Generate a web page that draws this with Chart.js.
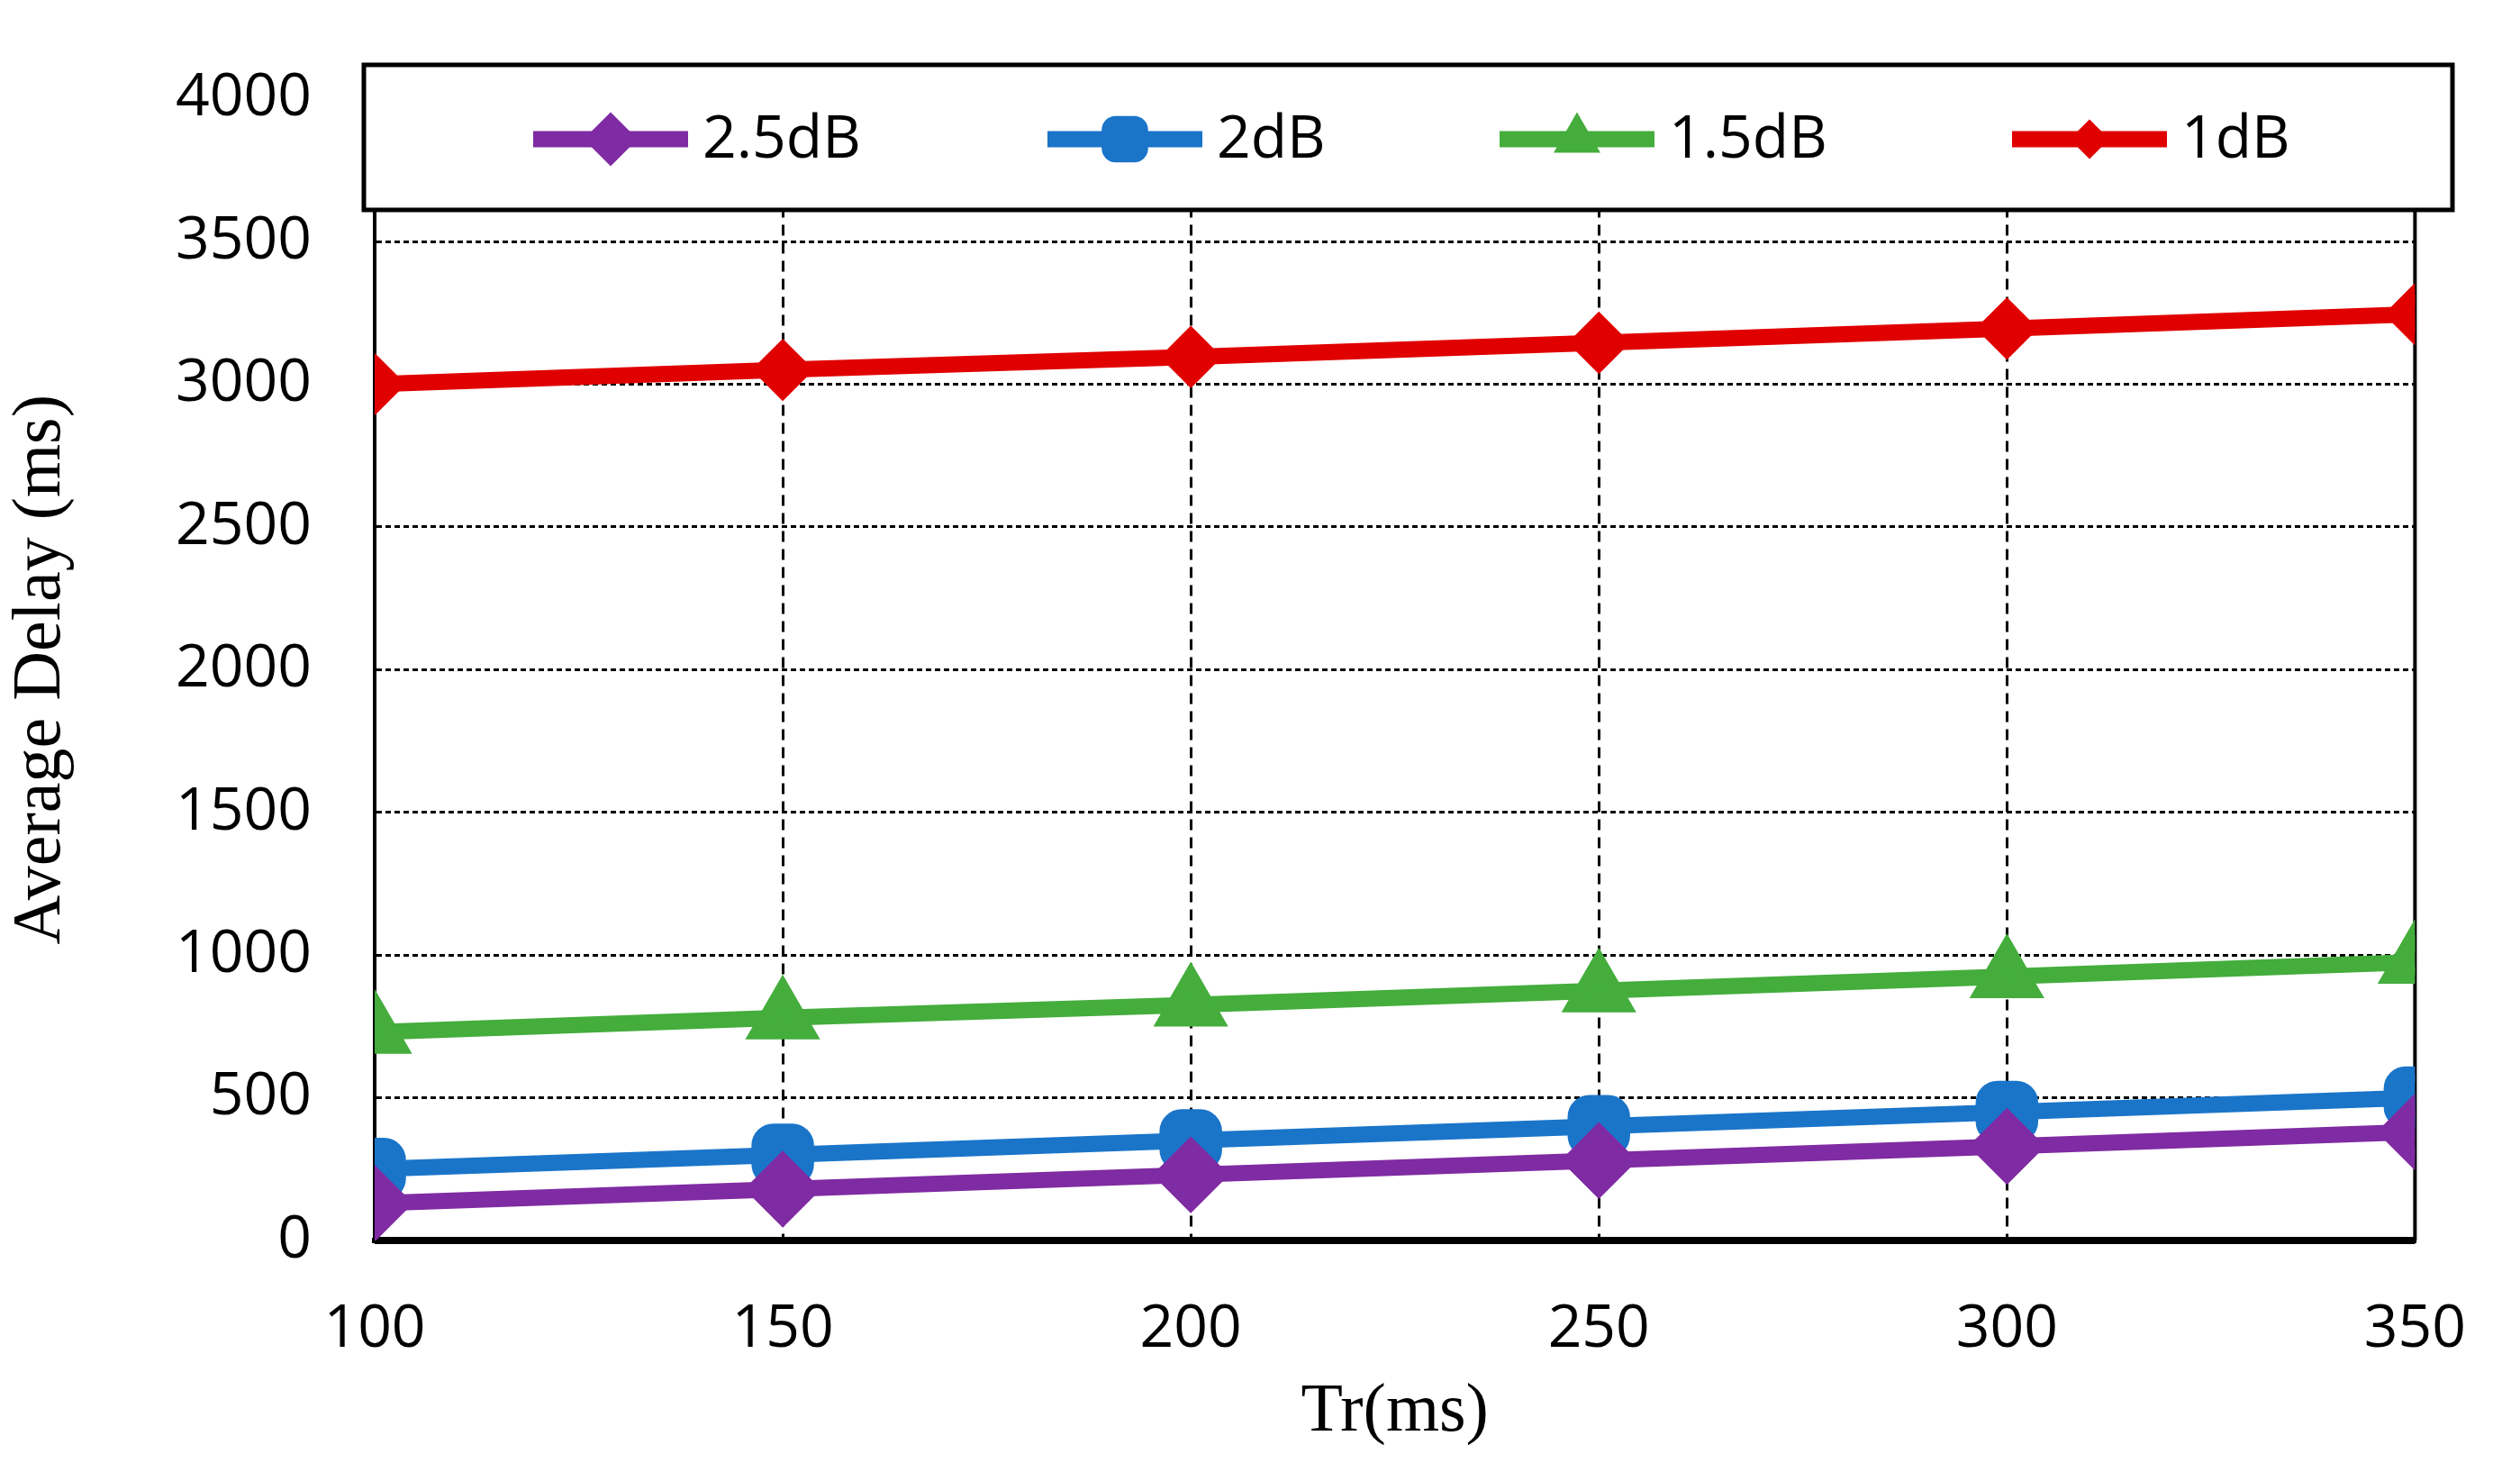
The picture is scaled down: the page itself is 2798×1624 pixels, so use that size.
<!DOCTYPE html>
<html>
<head>
<meta charset="utf-8">
<script src="https://cdn.jsdelivr.net/npm/chart.js@4"></script>
<style>
  html, body { margin: 0; padding: 0; background: #fff; }
  #wrap { width: 2798px; height: 1624px; }
</style>
</head>
<body>
<div id="wrap"><canvas id="c"></canvas></div>
<script>
const trValues = [100, 150, 200, 250, 300, 350];
const seriesLabels = ['2.5dB', '2dB', '1.5dB', '1dB'];
const delay25 = [130, 180, 230, 280, 330, 380];
const delay2 = [250, 300, 350, 400, 450, 500];
const delay15 = [730, 780, 825, 875, 925, 975];
const delay1 = [3000, 3050, 3095, 3145, 3195, 3245];

const colors = ['#7f2ba3', '#1a75c9', '#44ad3c', '#e00000'];
const shapes = ['rectRot', 'rectRounded', 'triangle', 'rectRot'];
const radii = [30, 30, 30, 22];
const allData = [delay25, delay2, delay15, delay1];

const datasets = allData.map((vals, i) => ({
    label: seriesLabels[i],
    data: vals.map((v, j) => ({ x: trValues[j], y: v })),
    borderColor: colors[i],
    backgroundColor: colors[i],
    borderWidth: 18,
    pointStyle: shapes[i],
    pointRadius: radii[i],
    pointHoverRadius: radii[i],
    tension: 0
}));

// legend drawn as a box inside the plot, like the original
const boxLegend = {
    id: 'boxLegend',
    afterDraw(chart) {
        const ctx = chart.ctx;
        const x0 = 404, y0 = 72, w = 2319, h = 161;
        ctx.save();
        ctx.fillStyle = '#fff';
        ctx.fillRect(x0, y0, w, h);
        ctx.lineWidth = 5;
        ctx.strokeStyle = '#000';
        ctx.strokeRect(x0, y0, w, h);
        const starts = [592, 1163, 1665, 2234];
        const cy = y0 + h / 2 + 2;
        chart.data.datasets.forEach((ds, i) => {
            const sx = starts[i];
            ctx.strokeStyle = ds.borderColor;
            ctx.lineWidth = 18;
            ctx.beginPath();
            ctx.moveTo(sx, cy);
            ctx.lineTo(sx + 172, cy);
            ctx.stroke();
            ctx.fillStyle = ds.backgroundColor;
            Chart.helpers.drawPoint(ctx, { pointStyle: ds.pointStyle, radius: ds.pointRadius, rotation: 0, borderWidth: 0 }, sx + 86, cy);
            ctx.fillStyle = '#000';
            ctx.font = '66px "Open Sans", "Liberation Sans", sans-serif';
            ctx.textBaseline = 'middle';
            ctx.fillText(ds.label, sx + 188, cy + 2);
        });
        ctx.restore();
    }
};

new Chart(document.getElementById('c'), {
    type: 'line',
    data: { datasets },
    options: {
        responsive: true,
        maintainAspectRatio: false,
        animation: false,
        layout: { padding: { left: 0, top: 68, right: 64, bottom: 10 } },
        plugins: { legend: { display: false }, tooltip: { enabled: false } },
        scales: {
            x: {
                type: 'linear',
                min: 100, max: 350,
                afterFit(s) { s.height = 237; },
                ticks: {
                    stepSize: 50, padding: 60, color: '#000',
                    callback: v => String(v),
                    font: { family: '"Open Sans", "Liberation Sans", sans-serif', size: 66 }
                },
                grid: { color: '#000', lineWidth: 3, drawTicks: false },
                border: { color: '#000', width: 6, dash: [12, 8] },
                title: {
                    display: true, text: 'Tr(ms)', color: '#000', padding: 0,
                    font: { family: '"Liberation Serif", serif', size: 76 }
                }
            },
            y: {
                min: 0, max: 4000,
                afterFit(s) { s.width = 416; },
                ticks: {
                    stepSize: 500, padding: 70, color: '#000',
                    callback: v => String(v),
                    font: { family: '"Open Sans", "Liberation Sans", sans-serif', size: 66 }
                },
                grid: { color: '#000', lineWidth: 3, drawTicks: false },
                border: { color: '#000', width: 3, dash: [6, 4] },
                title: {
                    display: true, text: 'Average Delay (ms)', color: '#000', padding: 0,
                    font: { family: '"Liberation Serif", serif', size: 76 }
                }
            }
        }
    },
    plugins: [boxLegend, {
        id: 'frame',
        beforeDatasetsDraw(chart) {
            const a = chart.chartArea, ctx = chart.ctx;
            ctx.save();
            ctx.strokeStyle = '#000';
            ctx.lineWidth = 4;
            ctx.beginPath();
            ctx.moveTo(a.left, a.top); ctx.lineTo(a.left, a.bottom);
            ctx.moveTo(a.right, a.top); ctx.lineTo(a.right, a.bottom);
            ctx.moveTo(a.left, a.top); ctx.lineTo(a.right, a.top);
            ctx.stroke();
            ctx.lineWidth = 8;
            ctx.beginPath();
            ctx.moveTo(a.left, a.bottom); ctx.lineTo(a.right, a.bottom);
            ctx.stroke();
            ctx.restore();
        }
    }]
});
</script>
</body>
</html>
